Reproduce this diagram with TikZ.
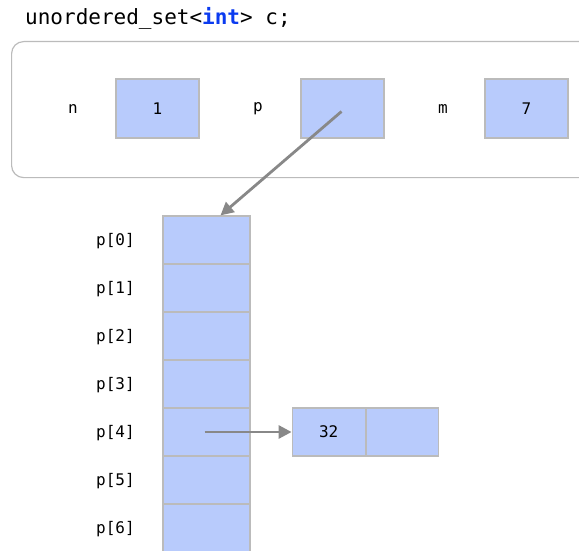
\documentclass[tikz,border=0pt]{standalone}
\usepackage{fontspec}
\usepackage{xcolor}
\usepackage{tikz}
\usetikzlibrary{arrows.meta,positioning}
\setmonofont{DejaVu Sans Mono}
\definecolor{cellfill}{HTML}{B8CBFC}
\definecolor{cellline}{HTML}{BBBBBB}
\definecolor{pointer}{HTML}{888888}
\definecolor{keyword}{HTML}{0B3BF0}
\tikzset{
  font=\ttfamily,
  objframe/.style={draw=cellline, line width=1.2pt, rounded corners=12pt, minimum width=590pt, minimum height=136pt},
  cell/.style={draw=cellline, fill=cellfill, line width=1.2pt, inner sep=0pt, minimum height=48pt, font=\ttfamily\fontsize{16}{19}\selectfont},
  slot/.style={cell, minimum width=87pt},
  field/.style={cell, minimum width=83pt, minimum height=59pt},
  varname/.style={inner sep=0pt, font=\ttfamily\fontsize{16}{19}\selectfont},
  decltext/.style={inner sep=0pt, font=\ttfamily\fontsize{21}{24}\selectfont},
  pointerflow/.style={-{Triangle[length=13pt,width=13pt]}, draw=pointer, line width=2.8pt}
}
\begin{document}
\begin{tikzpicture}[x=1pt, y=-1pt]
  \useasboundingbox (0,0) rectangle (579,551);

  \node[decltext, anchor=west] (decl) at (25,18) {unordered\_set<\textbf{\color{keyword}int}> c;};

  % the object itself
  \node[objframe, anchor=north west] (obj) at (11,41) {};
  \node[varname] (nname) at (73,109) {n};
  \node[field] (nval) at (157.5,108.5) {1};
  \node[varname] (pname) at (258,109) {p};
  \node[field] (pval) at (342.5,108.5) {};
  \node[varname] (mname) at (443,109) {m};
  \node[field] (mval) at (526.5,108.5) {7};

  % bucket array
  \foreach \i in {0,...,6} {
    \node[slot] (slot\i) at (206.5,240+48*\i) {};
    \node[varname] (label\i) at (115.5,241+48*\i) {p[\i]};
  }

  % list node in bucket 4
  \node[cell, minimum width=73pt, right=41pt of slot4] (key) {32};
  \node[cell, minimum width=72pt, right=0pt of key] (next) {};

  \draw[pointerflow] ([xshift=-1pt,yshift=-3pt]pval.center) -- ([xshift=14pt]slot0.north);
  \draw[pointerflow] ([xshift=-2pt]slot4.center) -- (key.west);
\end{tikzpicture}
\end{document}
